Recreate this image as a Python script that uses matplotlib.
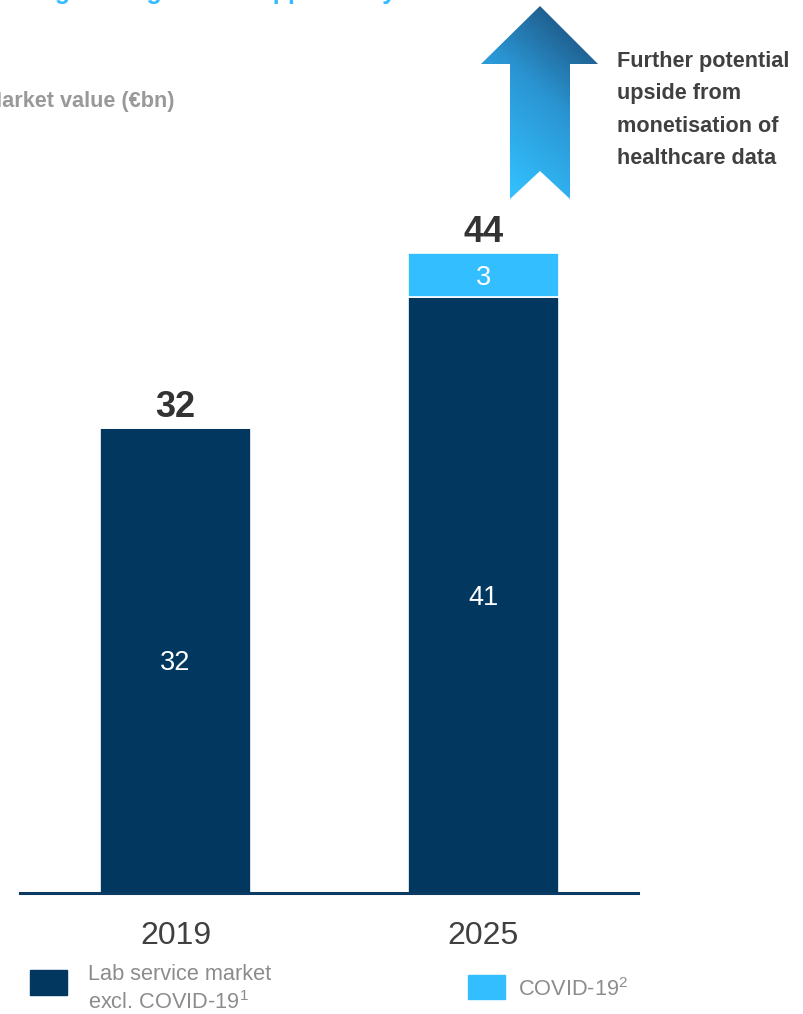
import numpy as np
import matplotlib.pyplot as plt
from matplotlib.patches import Polygon, Rectangle
from matplotlib.colors import LinearSegmentedColormap

# data
years = ["2019", "2025"]
lab_market = [32, 41]
covid = [0, 3]
totals = [32, 44]
upside_lines = ["Further potential", "upside from", "monetisation of", "healthcare data"]

DARK = "#02375F"
LIGHT = "#33BEFF"
W, H = 804, 1014
FONT = ["Liberation Sans", "DejaVu Sans"]


def fx(x):
    return x / W


def fy(y):
    return 1 - y / H


fig = plt.figure(figsize=(W / 100, H / 100), dpi=100)

# main axes: baseline at y=893px, x from 20 to 638px
ax = fig.add_axes([fx(20), fy(893), fx(618), (893 - 50) / H])
x = np.arange(len(years))
ax.bar(x, lab_market, width=0.49, color=DARK, edgecolor="white", linewidth=1.2)
ax.bar(x, covid, bottom=lab_market, width=0.49, color=LIGHT,
       edgecolor="white", linewidth=1.2)
ax.set_xlim(-0.505, 1.502)
ax.set_ylim(0, 843 / 14.54)
for s in ["top", "right", "left"]:
    ax.spines[s].set_visible(False)
ax.spines["bottom"].set_color("#0B3A63")
ax.spines["bottom"].set_linewidth(2.2)
ax.set_yticks([])
ax.set_xticks(x)
ax.set_xticklabels(years, fontsize=23, color="#404040", family=FONT)
ax.tick_params(axis="x", length=0, pad=20)

# segment labels
for i in range(len(years)):
    ax.text(i, lab_market[i] / 2, str(lab_market[i]), ha="center",
            va="center_baseline", color="white", fontsize=19.5, family=FONT)
    if covid[i] > 0:
        ax.text(i, lab_market[i] + covid[i] / 2, str(covid[i]), ha="center",
                va="center_baseline", color="white", fontsize=19.5, family=FONT)
    ax.annotate(str(totals[i]), (i, totals[i]), xytext=(0, 8),
                textcoords="offset points", ha="center", va="baseline",
                fontsize=26, fontweight="bold", color="#333333", family=FONT)

# clipped title and subtitle (cropped slide)
fig.text(fx(-63), fy(-1), "Lab testing is a significant opportunity",
         ha="left", va="baseline", fontsize=18, fontweight="bold",
         color="#33BBFF", family=FONT)
fig.text(fx(-16), fy(107), "Market value (\u20acbn)", ha="left", va="baseline",
         fontsize=15.6, fontweight="bold", color="#999999", family=FONT)

# gradient arrow
ax2 = fig.add_axes([0, 0, 1, 1], zorder=3)
ax2.set_xlim(0, W)
ax2.set_ylim(H, 0)
ax2.axis("off")
arrow_pts = [(540, 6), (598, 64), (570, 64), (570, 199), (540, 171),
             (510, 199), (510, 64), (481, 64)]
poly = Polygon(arrow_pts, closed=True, facecolor="none", edgecolor="none")
ax2.add_patch(poly)
gx, gy = np.meshgrid(np.linspace(0, 1, 120), np.linspace(1, 0, 200))
t = np.clip(0.75 * gy + 0.4 * gx - 0.12, 0, 1)
cmap = LinearSegmentedColormap.from_list("arr", ["#33C0FF", "#2A95D2", "#1A4670"])
im = ax2.imshow(t, cmap=cmap, extent=(481, 598, 199, 6), origin="upper",
                aspect="auto", vmin=0, vmax=1)
im.set_clip_path(poly)

for k, line in enumerate(upside_lines):
    fig.text(fx(617), fy(67 + 32.5 * k), line, ha="left", va="baseline",
             fontsize=15.6, fontweight="bold", color="#404040", family=FONT)

# legend
fig.patches.append(Rectangle((fx(30), fy(995)), fx(37), 25 / H, color=DARK,
                             transform=fig.transFigure, figure=fig))
fig.text(fx(88), fy(980), "Lab service market", ha="left", va="baseline",
         fontsize=15.7, color="#8C8C8C", family=FONT)
fig.text(fx(88), fy(1009), "excl. COVID-19$^{\\mathregular{1}}$", ha="left",
         va="baseline", fontsize=15.7, color="#8C8C8C", family=FONT)
fig.patches.append(Rectangle((fx(468), fy(999)), fx(37), 24 / H, color=LIGHT,
                             transform=fig.transFigure, figure=fig))
fig.text(fx(518), fy(996), "COVID-19$^{\\mathregular{2}}$", ha="left", va="baseline",
         fontsize=15.7, color="#8C8C8C", family=FONT)

fig.savefig("out.png", dpi=100)
